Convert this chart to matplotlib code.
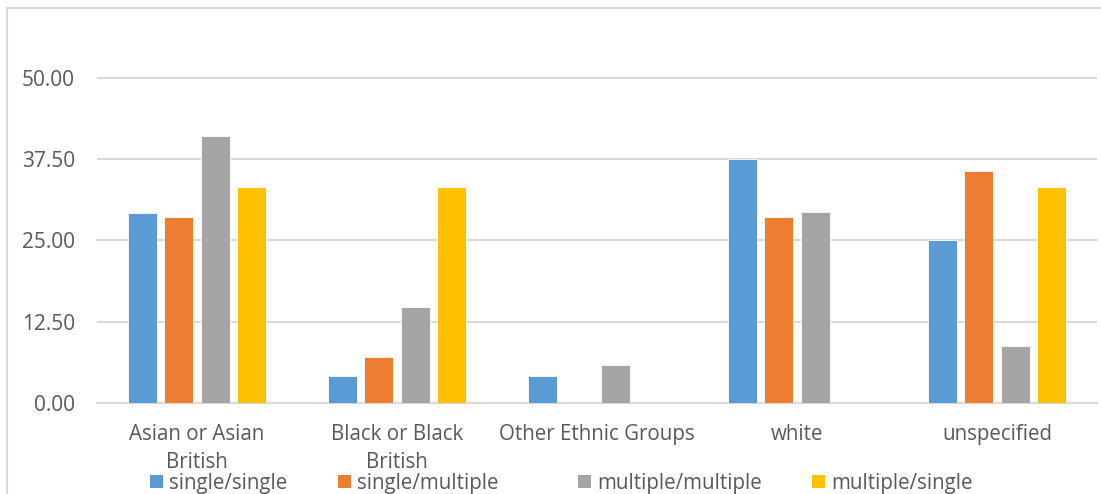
import matplotlib.pyplot as plt
import numpy as np
from matplotlib.patches import Rectangle, Patch

categories = ["Asian or Asian\nBritish", "Black or Black\nBritish", "Other Ethnic Groups", "white", "unspecified"]
series_names = ["single/single", "single/multiple", "multiple/multiple", "multiple/single"]
single_single = [29.2, 4.2, 4.2, 37.5, 25.0]
single_multiple = [28.6, 7.1, 0.0, 28.6, 35.7]
multiple_multiple = [41.1, 14.7, 5.9, 29.4, 8.8]
multiple_single = [33.3, 33.3, 0.0, 0.0, 33.3]
colors = ["#5b9bd5", "#ed7d31", "#a5a5a5", "#ffc000"]
yticks = [0, 12.5, 25, 37.5, 50]

plt.rcParams['font.family'] = ['Open Sans', 'DejaVu Sans']
txt = "#595959"

fig = plt.figure(figsize=(11.01, 4.94), dpi=100)
fig.patch.set_facecolor('white')
ax = fig.add_axes([97/1101, 1 - 403/494, 1000/1101, (403 - 20)/494])

x = np.arange(len(categories))
step = 0.1825
width = 0.145
data = [single_single, single_multiple, multiple_multiple, multiple_single]
for i, vals in enumerate(data):
    ax.bar(x + (i - 1.5) * step, vals, width, color=colors[i], edgecolor='white', linewidth=0.6, zorder=3)

ax.set_xlim(-0.5, len(categories) - 0.5)
ax.set_ylim(0, 50 * 383 / 325)
ax.set_yticks(yticks)
ax.set_yticklabels(["%.2f" % v for v in yticks], fontsize=15, color=txt)
ax.set_xticks(x)
ax.set_xticklabels(categories, fontsize=14.8, color=txt, linespacing=1.45)
ax.tick_params(axis='y', length=0, pad=16)
ax.tick_params(axis='x', length=0, pad=15)
ax.yaxis.grid(True, color='#d9d9d9', linewidth=1.5, zorder=0)
for s in ['top', 'right', 'left']:
    ax.spines[s].set_visible(False)
ax.spines['bottom'].set_color('#d9d9d9')
ax.spines['bottom'].set_linewidth(1.5)

# chart border (only left and top visible in the crop)
fig.patches.append(Rectangle((7/1101, -0.2), 1.2, 1.2 - 8/494, transform=fig.transFigure,
                             fill=False, edgecolor='#d9d9d9', linewidth=1.5, figure=fig))

# legend entries placed one by one, as in the reference
legend_x = [150, 338, 578, 812]
for c, name, lx in zip(colors, series_names, legend_x):
    leg = fig.legend([Patch(facecolor=c, edgecolor='none')], [name], loc='center left',
                     bbox_to_anchor=(lx/1101, 1 - 483/494), frameon=False, fontsize=14.8,
                     labelcolor=txt, handlelength=0.62, handleheight=0.62, handletextpad=0.3,
                     borderaxespad=0, borderpad=0)

fig.savefig("out.png", dpi=100)
